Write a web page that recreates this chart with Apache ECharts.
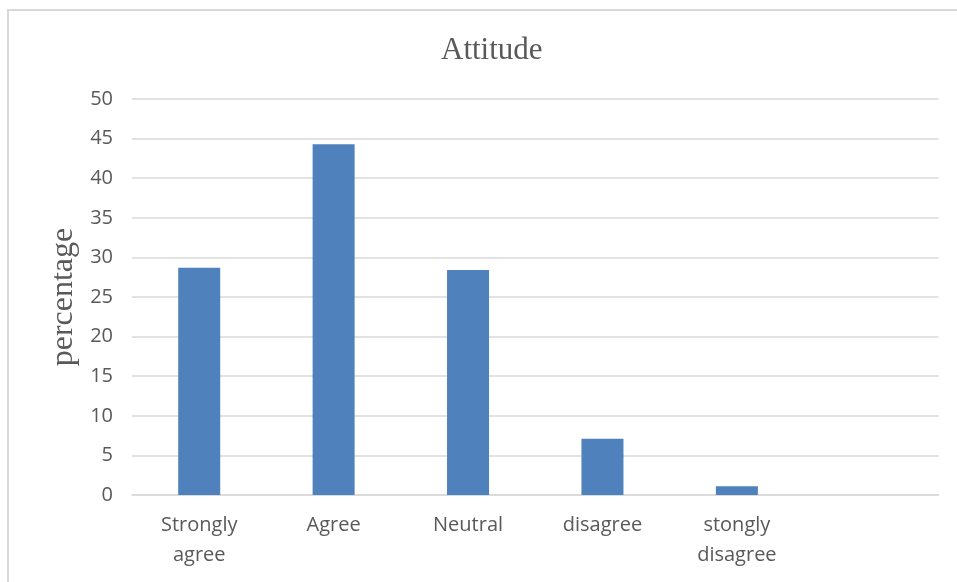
<!DOCTYPE html>
<html>
<head>
<meta charset="utf-8">
<script src="https://cdn.jsdelivr.net/npm/echarts@6/dist/echarts.min.js"></script>
<style>
  html, body { margin: 0; padding: 0; background: #ffffff; }
  #chart { width: 957px; height: 582px; }
</style>
</head>
<body>
<div id="chart"></div>
<script>
// Survey responses (percent) per attitude category; the last slot is left empty
const categories = ['Strongly\nagree', 'Agree', 'Neutral', 'disagree', 'stongly\ndisagree', ''];
const percentages = [28.7, 44.3, 28.4, 7.1, 1.1, null];
const yTicks = { min: 0, max: 50, step: 5 };

const textGrey = '#595959';
const lineGrey = '#d9d9d9';

const chart = echarts.init(document.getElementById('chart'), null, { renderer: 'canvas' });

chart.setOption({
  backgroundColor: '#ffffff',
  animation: false,
  title: {
    text: 'Attitude',
    left: 436,
    top: 30,
    textStyle: {
      fontFamily: '"Liberation Serif", "Times New Roman", serif',
      fontSize: 31,
      fontWeight: 'normal',
      color: textGrey
    }
  },
  graphic: [{
    type: 'rect',
    silent: true,
    shape: { x: 8, y: 10, width: 1200, height: 1200 },
    style: { fill: 'none', stroke: lineGrey, lineWidth: 2 }
  }],
  grid: { left: 132, right: 18.5, top: 99, bottom: 87, containLabel: false },
  xAxis: {
    type: 'category',
    data: categories,
    axisTick: { show: false },
    axisLine: { show: true, lineStyle: { color: lineGrey, width: 1.5 } },
    axisLabel: {
      interval: 0,
      margin: 15,
      color: textGrey,
      fontFamily: '"Open Sans", sans-serif',
      fontSize: 20,
      lineHeight: 30
    }
  },
  yAxis: {
    type: 'value',
    min: yTicks.min,
    max: yTicks.max,
    interval: yTicks.step,
    name: 'percentage',
    nameLocation: 'middle',
    nameGap: 52,
    nameTextStyle: {
      fontFamily: '"Liberation Serif", "Times New Roman", serif',
      fontSize: 32,
      color: textGrey
    },
    axisLine: { show: false },
    axisTick: { show: false },
    axisLabel: {
      margin: 19,
      color: textGrey,
      fontFamily: '"Open Sans", sans-serif',
      fontSize: 20
    },
    splitLine: { lineStyle: { color: lineGrey, width: 1.5 } }
  },
  series: [{
    type: 'bar',
    data: percentages,
    barWidth: 42,
    itemStyle: { color: '#4f81bd' }
  }]
});
</script>
</body>
</html>
